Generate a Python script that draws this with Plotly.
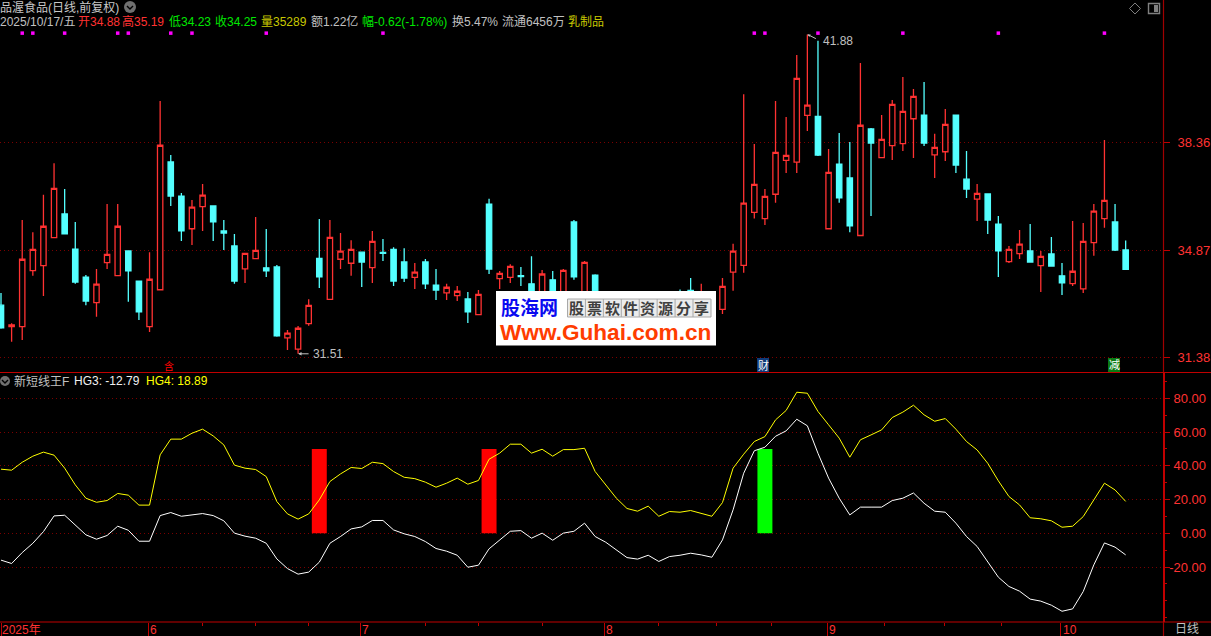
import plotly.graph_objects as go

W, H = 1211, 636
# ---------- data ----------
opens = [33.09,32.39,32.39,34.21,34.37,35.28,36.05,34.91,34.00,33.17,34.47,34.05,34.85,33.87,32.39,33.59,37.74,36.63,35.57,36.29,
         36.31,35.50,35.01,34.27,34.60,34.30,34.33,32.03,31.66,32.49,34.61,33.28,34.58,34.45,34.81,34.31,34.80,34.90,34.49,33.99,
         34.49,33.74,33.49,33.40,33.29,32.78,36.37,33.95,33.99,34.05,33.78,33.26,33.91,33.32,35.79,33.26,34.06,33.20,32.90,32.60,
         32.80,32.50,32.80,33.20,33.40,33.57,33.10,32.70,32.95,34.16,34.38,36.10,35.90,36.69,37.79,37.73,39.25,39.22,35.57,37.67,
         37.22,35.35,38.81,37.88,38.27,38.33,39.14,39.26,37.97,38.07,39.26,37.18,36.53,36.70,35.72,34.50,34.76,34.85,34.37,34.75,
         34.04,33.79,33.62,35.12,35.90,35.79,34.88]
highs = [33.48,32.50,35.85,35.46,36.67,37.70,36.86,35.79,34.07,34.26,36.37,36.37,34.85,33.87,34.81,39.72,37.96,36.73,36.50,37.02,
         36.31,35.85,35.40,34.77,35.95,35.56,34.39,32.28,32.41,33.28,35.89,35.85,35.43,35.20,34.81,35.50,35.24,34.97,34.94,34.46,
         34.59,34.26,33.78,33.71,33.52,33.58,36.54,34.20,34.42,34.33,34.68,34.23,34.20,34.26,35.85,34.52,34.09,33.35,33.10,33.00,
         33.00,33.00,33.20,33.40,33.60,33.97,33.78,33.45,33.97,35.08,39.94,38.32,36.86,39.72,39.20,41.21,41.88,41.67,38.16,38.68,
         38.39,40.95,38.84,39.26,39.75,40.50,40.11,40.33,38.65,39.46,39.26,38.09,37.02,36.70,35.98,35.01,35.53,35.72,34.85,35.30,
         34.46,35.82,35.76,36.37,38.45,36.37,35.19]
lows = [32.32,31.90,31.96,34.04,33.39,35.28,35.40,33.78,33.09,32.71,34.26,34.05,33.20,32.61,32.22,33.59,36.31,35.17,35.04,35.50,
        35.17,34.88,33.78,33.81,34.60,34.00,32.06,31.63,31.51,32.42,33.65,33.28,34.26,34.04,33.68,33.81,34.52,33.71,33.84,33.61,
        33.61,33.26,33.26,33.22,32.51,32.78,34.10,33.61,33.81,33.71,33.16,33.09,33.00,33.32,33.91,33.16,33.06,32.80,32.50,32.50,
        32.40,32.40,32.70,32.90,32.90,33.00,32.90,32.60,32.80,33.56,34.14,35.90,35.69,36.41,37.38,37.38,38.74,37.93,35.57,36.41,
        35.46,35.35,35.98,37.88,37.80,38.09,37.87,38.26,37.22,37.77,37.38,36.57,35.82,35.40,34.00,34.46,34.59,34.49,33.52,34.36,
        33.42,33.71,33.48,34.69,35.60,34.85,34.23]
closes = [32.35,32.45,34.58,34.90,35.65,36.88,35.40,33.84,33.22,33.77,34.74,35.65,34.20,32.87,33.93,38.28,36.63,35.50,36.27,36.66,
          35.79,35.43,33.87,34.77,34.87,34.20,32.09,32.18,32.34,33.08,34.01,35.29,34.84,34.90,34.49,35.16,34.77,33.87,33.97,34.16,
          33.78,33.58,33.67,33.54,32.87,33.44,34.26,34.12,34.35,34.02,33.22,34.10,33.09,34.22,34.01,34.48,33.20,32.90,32.60,32.80,
          32.50,32.90,33.10,33.00,33.10,33.20,33.50,33.20,33.70,34.84,36.40,37.01,36.62,38.05,37.95,40.45,39.58,37.96,37.40,36.57,
          35.66,38.93,38.35,38.47,39.61,39.38,39.87,38.35,38.21,38.96,37.64,36.86,36.72,35.85,34.85,34.90,35.07,34.49,34.67,34.36,
          33.81,34.19,35.16,36.14,36.49,34.88,34.25]
hg3 = [-15.9,-17.9,-11.4,-5.9,1.0,10.3,10.7,4.6,-0.9,-3.5,-1.3,4.2,1.8,-4.7,-4.7,10.5,12.3,10.1,10.7,11.7,
       10.5,7.4,0.1,-1.7,-2.9,-5.9,-15.2,-20.9,-24.2,-23.0,-17.1,-5.9,-1.9,2.6,3.8,7.6,7.6,2.0,-0.3,-1.9,
       -4.9,-9.0,-10.6,-13.0,-20.1,-18.9,-9.2,-3.9,1.2,1.6,-2.9,0.1,-4.1,0.1,1.2,6.0,-1.9,-5.3,-10.0,-14.4,
       -15.3,-13.0,-16.7,-13.8,-13.0,-11.8,-12.8,-14.2,-3.9,13.9,35.6,48.9,51.0,57.5,60.7,67.6,63.7,47.4,32.7,20.8,
       10.9,15.5,15.5,15.5,19.4,20.8,23.9,17.8,13.1,12.5,6.0,-1.9,-7.8,-16.7,-26.0,-31.5,-34.3,-39.0,-40.2,-42.6,
       -46.2,-44.8,-34.5,-18.7,-5.7,-8.2,-12.79]
hg4 = [38.0,37.4,42.1,45.7,48.1,46.3,38.6,28.7,20.8,18.4,19.4,23.6,22.6,16.7,16.7,46.5,55.8,55.8,59.3,61.7,
       57.7,52.4,40.4,38.6,37.8,33.6,18.8,11.5,8.4,11.5,19.8,30.7,35.2,39.0,38.4,42.1,41.3,36.6,33.2,32.4,
       30.3,27.3,29.7,32.7,29.1,31.3,43.9,47.5,52.8,52.8,47.5,49.8,45.7,49.6,49.6,50.4,36.6,28.7,20.8,14.7,
       13.1,16.1,10.1,12.9,12.5,13.5,11.9,10.1,18.2,38.6,46.9,54.4,57.3,67.2,72.8,83.6,83.0,72.2,64.3,56.4,
       45.1,55.4,58.3,61.3,68.6,71.8,75.9,70.2,66.4,68.0,61.7,54.4,49.4,41.5,31.1,21.8,16.8,9.2,8.6,7.4,
       3.6,4.2,9.9,19.8,29.7,25.7,18.89]
signal_days = [2,3,6,11,12,16,18,25,36,71,72,77,85,94,104]
signal_level = [41.92] * len(signal_days)
red_bars_x = [30, 46]
red_bars_y = [50, 50]
green_bars_x = [72]
green_bars_y = [50]
price_ticks = [31.38, 34.87, 38.36]
ind_ticks = [-20, 0, 20, 40, 60, 80]
month_pos = [0, 13.88, 33.88, 56.87, 77.87, 99.87]
month_labels = ["2025年", "6", "7", "8", "9", "10"]
minor_pos = [19, 24, 29, 40, 45, 51, 62, 67.4, 72.6, 83.3, 88.9, 94.3]

RED = "#ff3232"; CYAN = "#54ffff"; GRID = "#7a0000"; AX = "#b00000"; GRAY = "#c0c0c0"
GREEN = "#00e800"; YEL = "#c8c800"
FONT = "Liberation Sans, Noto Sans CJK SC"
days = list(range(len(opens)))

fig = go.Figure()
fig.add_trace(go.Candlestick(x=days, open=opens, high=highs, low=lows, close=closes,
    xaxis="x", yaxis="y", whiskerwidth=0, hoverinfo="skip",
    increasing=dict(line=dict(color=RED, width=1.3), fillcolor="#000000"),
    decreasing=dict(line=dict(color=CYAN, width=1.3), fillcolor=CYAN)))
fig.add_trace(go.Scatter(x=signal_days, y=signal_level, mode="markers", xaxis="x", yaxis="y",
    marker=dict(symbol="square", size=3.5, color="#ff00ff", line=dict(width=0)), hoverinfo="skip"))
fig.add_trace(go.Scatter(x=days, y=hg3, mode="lines", xaxis="x2", yaxis="y2",
    line=dict(color="#ffffff", width=1), hoverinfo="skip"))
fig.add_trace(go.Scatter(x=days, y=hg4, mode="lines", xaxis="x2", yaxis="y2",
    line=dict(color="#ffff00", width=1), hoverinfo="skip"))
fig.add_trace(go.Bar(x=red_bars_x, y=red_bars_y, width=1.41, marker=dict(color="#ff0000", line=dict(width=0)),
    xaxis="x2", yaxis="y2", hoverinfo="skip"))
fig.add_trace(go.Bar(x=green_bars_x, y=green_bars_y, width=1.41, marker=dict(color="#00ff00", line=dict(width=0)),
    xaxis="x2", yaxis="y2", hoverinfo="skip"))
# carrier for the right-aligned indicator tick labels
fig.add_trace(go.Scatter(x=days, y=hg3, mode="lines", xaxis="x2", yaxis="y3", opacity=0,
    line=dict(width=0), hoverinfo="skip"))

xr = [-1/10.61, 1162/10.61]
xd = [0, 1163/W]
def px(x): return x / W
def py(y): return 1 - y / H

ann = []
def T(x, y, s, color=GRAY, size=12, anchor="left", bold=False):
    ann.append(dict(x=px(x), y=py(y), xref="paper", yref="paper", text=("<b>%s</b>" % s) if bold else s,
        showarrow=False, xanchor=anchor, yanchor="middle", align=anchor,
        font=dict(family=FONT, size=size, color=color), borderpad=0, borderwidth=0))

T(0, 7, "品渥食品(日线,前复权)", "#c8c8c8", 12)
T(0, 22, "2025/10/17/五", GRAY, 12)
for x, s, c in [(78, "开34.88", RED), (122, "高35.19", RED), (169, "低34.23", GREEN), (215, "收34.25", GREEN),
                (261, "量35289", YEL), (311, "额1.22亿", GRAY), (362, "幅-0.62(-1.78%)", GREEN),
                (452, "换5.47%", GRAY), (502, "流通6456万", GRAY), (568, "乳制品", YEL)]:
    T(x, 22, s, c, 12)
T(14, 381, "新短线王F", GRAY, 12)
T(74, 381, "HG3: -12.79", "#f0f0f0", 12)
T(146, 381, "HG4: 18.89", "#ffff00", 12)
T(1187, 629, "日线", GRAY, 12, "center")

# price extremes
ann.append(dict(x=28, y=31.51, xref="x", yref="y", text="31.51", showarrow=False, xanchor="left", xshift=13,
    font=dict(family=FONT, size=12, color=GRAY)))
ann.append(dict(x=28, y=31.51, xref="x", yref="y", ax=12, ay=0, text="", showarrow=True, arrowhead=2,
    arrowsize=0.7, arrowwidth=1, arrowcolor=GRAY))
ann.append(dict(x=77, y=41.65, xref="x", yref="y", text="41.88", showarrow=False, xanchor="left", xshift=3,
    font=dict(family=FONT, size=12, color=GRAY)))
ann.append(dict(x=76, y=41.88, xref="x", yref="y", ax=10, ay=5, text="", showarrow=True, arrowhead=2,
    arrowsize=0.6, arrowwidth=1, arrowcolor=GRAY))

# month labels
for m, s in zip(month_pos, month_labels):
    ann.append(dict(x=m, y=py(630), xref="x2", yref="paper", text=s, showarrow=False, xanchor="left",
        xshift=-1 if m == 0 else 0, yanchor="middle", font=dict(family=FONT, size=12, color=RED)))

# event tags
T(169, 366, "含", "#ff0000", 10, "center")
T(763, 365, "财", "#ffffff", 11, "center")
T(1114, 365, "减", "#ffffff", 11, "center")

# watermark
T(501, 308, "股海网", "#0a0af0", 19, bold=True)
for k, ch in enumerate("股票软件资源分享"):
    T(576.3 + 17.9 * k, 308, ch, "#404040", 15, "center", bold=True)
T(500, 332, "Www.Guhai.com.cn", "#ff3c00", 22.6, bold=True)

def R(x0, y0, x1, y1, fill=None, line=None, width=1, layer="above"):
    return dict(type="rect", xref="paper", yref="paper", x0=px(x0), x1=px(x1), y0=py(y0), y1=py(y1),
        fillcolor=fill or "rgba(0,0,0,0)", line=dict(color=line or "rgba(0,0,0,0)", width=width if line else 0), layer=layer)
def L(x0, y0, x1, y1, color=AX, width=1):
    return dict(type="line", xref="paper", yref="paper", x0=px(x0), x1=px(x1), y0=py(y0), y1=py(y1),
        line=dict(color=color, width=width), layer="above")
def P(points, color=GRAY, width=1, close=False):
    d = "M" + " L".join("%.5f,%.5f" % (px(a), py(b)) for a, b in points) + (" Z" if close else "")
    return dict(type="path", xref="paper", yref="paper", path=d, line=dict(color=color, width=width), layer="above")

shapes = [
    L(0, 372.5, W, 372.5, "#c00000", 1.2),
    L(0, 622, W, 622, "#c00000", 1.2),
    L(1163.5, 0, 1163.5, 372, "#a00000", 1.2),
    L(1164, 372, 1164, 622, "#c00000", 2),
    L(1163.5, 622, 1163.5, 636, "#a00000", 1.2),
    R(757, 358, 769, 372, "#103a78"),
    R(1108, 358, 1120, 372, "#0a7a14"),
    R(496, 291, 716, 345.5, "#ffffff"),
    R(567.5, 299, 711, 317, "#ececec", "#a8a8a8", 1),
]
for k in range(1, 8):
    shapes.append(L(567.5 + 17.93 * k, 299, 567.5 + 17.93 * k, 317, "#a8a8a8", 1))
# small interface icons
for cx, cy, r in [(130, 7, 6), (5, 381, 5)]:
    shapes.append(dict(type="circle", xref="paper", yref="paper", x0=px(cx - r), x1=px(cx + r),
        y0=py(cy + r), y1=py(cy - r), fillcolor="#707070", line=dict(width=0), layer="above"))
    shapes.append(P([(cx - 3, cy - 1), (cx, cy + 2), (cx + 3, cy - 1)], "#000000", 1.4))
shapes.append(P([(1135, 3), (1140.5, 8.5), (1135, 14), (1129.5, 8.5)], "#808080", 1, True))
shapes.append(R(1148.5, 3.5, 1159.5, 13.5, None, "#808080", 1.4))
shapes.append(R(1154, 5, 1158, 12, "#808080"))

fig.update_layout(
    width=W, height=H, margin=dict(l=0, r=0, t=0, b=0, pad=0), autosize=False,
    paper_bgcolor="#000000", plot_bgcolor="#000000", showlegend=False, barmode="overlay", boxgap=0.28,
    font=dict(family=FONT, color=RED, size=13), annotations=ann, shapes=shapes,
    xaxis=dict(domain=xd, range=xr, anchor="y", rangeslider=dict(visible=False), showgrid=False, zeroline=False,
        showticklabels=False, ticks="", showline=False, automargin=False),
    xaxis2=dict(domain=xd, range=xr, anchor="y2", showgrid=False, zeroline=False, showline=False, automargin=False,
        tickmode="array", tickvals=month_pos, ticktext=[""] * len(month_pos), ticks="outside", ticklen=14,
        tickcolor="#c00000", tickwidth=1,
        minor=dict(tickmode="array", tickvals=minor_pos, ticks="outside", ticklen=3, tickcolor="#c00000", tickwidth=1, showgrid=False)),
    yaxis=dict(domain=[py(372), 1], range=[34.87 - (372 - 250.3) * 0.032465, 34.87 + 250.3 * 0.032465], anchor="x", side="right",
        tickmode="array", tickvals=price_ticks, ticktext=["%.2f" % v for v in price_ticks], automargin=False,
        ticks="outside", ticklen=6, tickcolor="#c00000", ticklabelstandoff=5,
        tickfont=dict(family=FONT, size=13, color=RED),
        showgrid=True, gridcolor=GRID, griddash="1px,3px", gridwidth=1, zeroline=False, showline=False),
    yaxis2=dict(domain=[py(622), py(373)], range=[(533.3 - 622) * 0.5926, (533.3 - 373) * 0.5926], anchor="x2", side="right",
        tickmode="array", tickvals=ind_ticks, ticktext=[""] * len(ind_ticks), automargin=False,
        ticks="outside", ticklen=6, tickcolor="#c00000",
        minor=dict(dtick=10, tick0=0, ticks="outside", ticklen=3, tickcolor="#c00000", showgrid=False),
        showgrid=True, gridcolor=GRID, griddash="1px,3px", gridwidth=1, zeroline=False, showline=False),
    yaxis3=dict(overlaying="y2", matches="y2", anchor="free", position=1209 / W, side="right", ticklabelposition="inside",
        tickmode="array", tickvals=ind_ticks, ticktext=["%.2f" % v for v in ind_ticks], ticks="", showgrid=False, automargin=False,
        zeroline=False, showline=False, tickfont=dict(family=FONT, size=13, color=RED)),
)
fig.write_html("out.html", config=dict(displayModeBar=False),
    post_script="document.body.style.margin='0';document.body.style.background='#000';")
